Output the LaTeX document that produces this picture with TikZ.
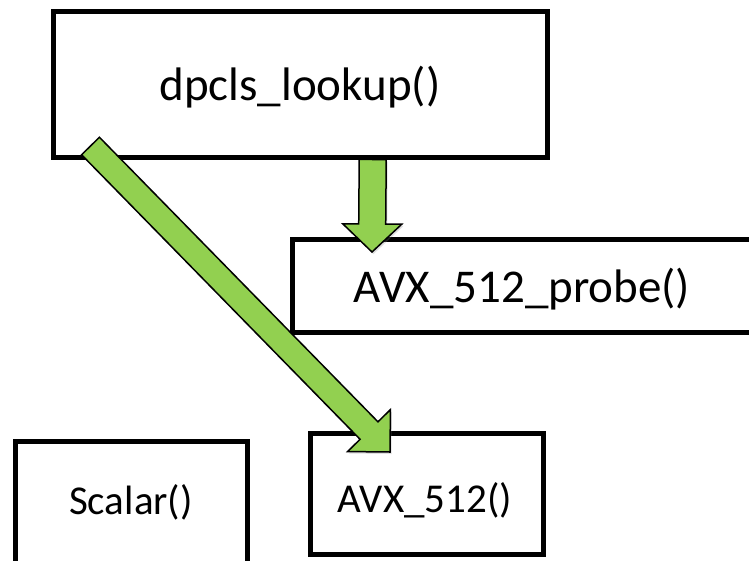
\documentclass[tikz,border=0pt]{standalone}
\usepackage{fontspec}
\setmainfont{Carlito}
\usetikzlibrary{calc,shadows}
\definecolor{arrowgreen}{HTML}{92D050}
\tikzset{
  box/.style={draw=black, line width=5pt, fill=white, inner sep=0pt, rectangle},
  bigtxt/.style={font=\fontsize{47}{50}\selectfont, anchor=base, inner sep=0pt},
  smalltxt/.style={font=\fontsize{41}{44}\selectfont, anchor=base, inner sep=0pt},
  blockarrow/.style={draw=black, line width=1.5pt, fill=arrowgreen, line join=miter,
    drop shadow={opacity=0.25, shadow xshift=1.5pt, shadow yshift=-2pt}},
}
% #1 tail coordinate, #2 tip coordinate, #3 half shaft width, #4 half head width, #5 head length
\newcommand{\blockarrowpath}[5]{%
  \coordinate (#2-base) at ($(#2)!#5!(#1)$);
  \path[blockarrow]
    ($(#1)!#3!90:(#2)$) -- ($(#2-base)!#3!90:(#2)$) -- ($(#2-base)!#4!90:(#2)$) --
    (#2) --
    ($(#2-base)!#4!-90:(#2)$) -- ($(#2-base)!#3!-90:(#2)$) -- ($(#1)!#3!-90:(#2)$) -- cycle;
}
\begin{document}
\begin{tikzpicture}[x=1pt,y=-1pt]
\useasboundingbox (0,0) rectangle (749,560);
\clip (0,0) rectangle (749,560);
\fill[white] (0,0) rectangle (749,560);
% boxes
\node[box, minimum width=494pt, minimum height=146pt] (lookup) at (300,84) {};
\node[bigtxt] (lookupt) at (300,100) {dpcls\_lookup()};
\node[box, minimum width=508pt, minimum height=93pt] (probe) at (546,285.5) {};
\node[bigtxt] (probet) at (522,302) {AVX\_512\_probe()};
\node[box, minimum width=232pt, minimum height=159pt] (scalar) at (131,520.5) {};
\node[smalltxt] (scalart) at (131,514) {Scalar()};
\node[box, minimum width=233pt, minimum height=121pt] (avx) at (426.5,493.5) {};
\node[smalltxt] (avxt) at (425,512) {AVX\_512()};
% arrows
\coordinate (vtail) at ($(lookup.south west)!{(372-53)/494}!(lookup.south east)$);
\coordinate (vtip) at (372,252);
\blockarrowpath{vtail}{vtip}{13.5pt}{29.5pt}{28pt}
\coordinate (dtail) at (90.5,146);
\coordinate (dtip) at (390,452);
\blockarrowpath{dtail}{dtip}{12.5pt}{30pt}{30pt}
\end{tikzpicture}
\end{document}
